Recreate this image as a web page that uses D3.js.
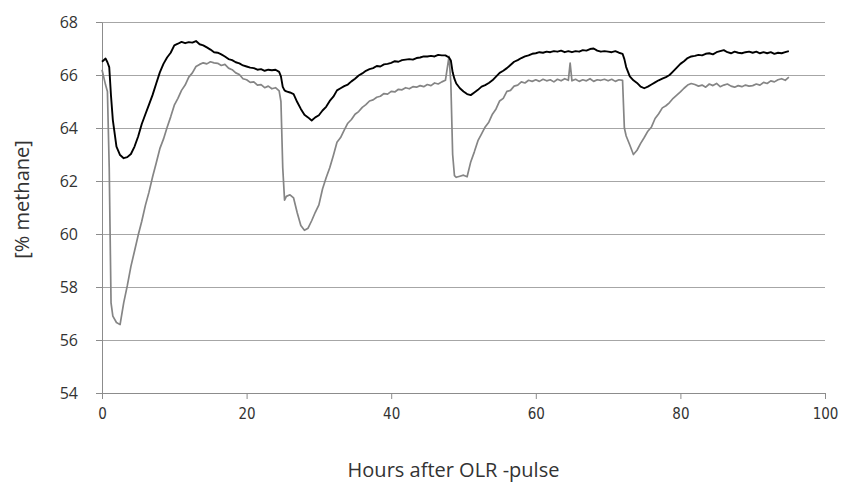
<!DOCTYPE html>
<html>
<head>
<meta charset="utf-8">
<script src="https://cdn.jsdelivr.net/npm/d3@7"></script>
<style>
  body { margin: 0; background: #fff; }
  .grid line { stroke: #a6a6a6; stroke-width: 1; }
  .grid path { display: none; }
  .axis path, .axis line { stroke: #8c8c8c; stroke-width: 1; }
  .ytick text { font-family: "Open Sans", "Noto Sans", sans-serif; font-size: 16px; fill: #333; }
  .xtick text { font-family: "Liberation Sans Narrow", "DejaVu Sans Condensed", sans-serif; font-size: 15px; fill: #333; }
  .title { font-family: "Open Sans", "Noto Sans", sans-serif; font-size: 20px; fill: #333; }
</style>
</head>
<body>
<div id="chart"></div>
<script>
// sample times (hours after the pulse), shared by both traces
const hours = [
  0, 0.5, 0.75, 1, 1.25, 1.5, 2, 2.5, 3, 3.5, 4, 4.5,
  5, 5.5, 6, 6.5, 7, 7.5, 8, 8.5, 9, 9.5,
  10, 10.5, 11, 11.5, 12, 12.5, 13, 13.5, 14, 14.5,
  15, 15.5, 16, 16.5, 17, 17.5, 18, 18.5, 19, 19.5,
  20, 20.5, 21, 21.5, 22, 22.5, 23, 23.5, 24, 24.5, 24.75,
  25, 25.25, 25.5, 26, 26.5, 27, 27.5, 28, 28.5, 29, 29.5,
  30, 30.5, 31, 31.5, 32, 32.5, 33, 33.5, 34, 34.5,
  35, 35.5, 36, 36.5, 37, 37.5, 38, 38.5, 39, 39.5,
  40, 40.5, 41, 41.5, 42, 42.5, 43, 43.5, 44, 44.5,
  45, 45.5, 46, 46.5, 47, 47.5, 48, 48.25, 48.5, 48.75, 49, 49.5,
  50, 50.5, 51, 51.5, 52, 52.5, 53, 53.5, 54, 54.5,
  55, 55.5, 56, 56.5, 57, 57.5, 58, 58.5, 59, 59.5,
  60, 60.5, 61, 61.5, 62, 62.5, 63, 63.5, 64, 64.5, 64.75,
  65, 65.5, 66, 66.5, 67, 67.5, 68, 68.5, 69, 69.5,
  70, 70.5, 71, 71.5, 72, 72.25, 72.5, 73, 73.5, 74, 74.5,
  75, 75.5, 76, 76.5, 77, 77.5, 78, 78.5, 79, 79.5,
  80, 80.5, 81, 81.5, 82, 82.5, 83, 83.5, 84, 84.5,
  85, 85.5, 86, 86.5, 87, 87.5, 88, 88.5, 89, 89.5,
  90, 90.5, 91, 91.5, 92, 92.5, 93, 93.5, 94, 94.5, 95
];

// black trace
const blackValues = [
  66.5, 66.62, 66.48, 66.3, 65.2, 64.3, 63.3, 62.98, 62.86, 62.9, 63.02, 63.3,
  63.68, 64.15, 64.52, 64.88, 65.25, 65.68, 66.1, 66.42, 66.66, 66.84,
  67.12, 67.18, 67.25, 67.2, 67.24, 67.22, 67.28, 67.16, 67.12, 67.04,
  66.96, 66.86, 66.84, 66.78, 66.7, 66.6, 66.56, 66.48, 66.44, 66.36,
  66.32, 66.28, 66.26, 66.2, 66.22, 66.16, 66.2, 66.18, 66.2, 66.12, 65.95,
  65.55, 65.42, 65.38, 65.34, 65.28, 64.98, 64.72, 64.5, 64.4, 64.28, 64.4,
  64.48, 64.66, 64.8, 65.02, 65.18, 65.42, 65.5, 65.58, 65.64, 65.76,
  65.86, 65.98, 66.06, 66.16, 66.22, 66.26, 66.34, 66.32, 66.4, 66.42,
  66.46, 66.52, 66.5, 66.56, 66.58, 66.6, 66.58, 66.64, 66.66, 66.7,
  66.7, 66.72, 66.7, 66.76, 66.74, 66.74, 66.66, 66.55, 66.1, 65.85, 65.68, 65.5,
  65.38, 65.28, 65.24, 65.34, 65.44, 65.56, 65.62, 65.7, 65.8, 65.94,
  66.08, 66.16, 66.26, 66.38, 66.5, 66.56, 66.64, 66.7, 66.74, 66.8,
  66.82, 66.86, 66.84, 66.88, 66.86, 66.9, 66.88, 66.92, 66.86, 66.9, 66.88,
  66.86, 66.9, 66.88, 66.94, 66.92, 66.98, 67.0, 66.92, 66.88, 66.9,
  66.88, 66.86, 66.9, 66.84, 66.8, 66.6, 66.3, 65.95, 65.8, 65.7, 65.56,
  65.5, 65.56, 65.64, 65.72, 65.8, 65.86, 65.92, 66.0, 66.14, 66.28,
  66.42, 66.52, 66.64, 66.7, 66.72, 66.76, 66.74, 66.8, 66.82, 66.78,
  66.86, 66.9, 66.94, 66.86, 66.82, 66.88, 66.84, 66.82, 66.86, 66.88,
  66.84, 66.88, 66.82, 66.86, 66.82, 66.86, 66.8, 66.84, 66.82, 66.86, 66.9
];

// grey trace
const greyValues = [
  66.2, 65.62, 65.38, 62.5, 57.4, 56.9, 56.66, 56.58, 57.4, 58.05, 58.78, 59.36,
  59.95, 60.48, 61.08, 61.58, 62.16, 62.68, 63.22, 63.58, 64.02, 64.42,
  64.86, 65.12, 65.42, 65.62, 65.92, 66.08, 66.32, 66.4, 66.46, 66.42,
  66.5, 66.46, 66.44, 66.36, 66.4, 66.26, 66.2, 66.08, 66.02, 65.86,
  65.82, 65.72, 65.74, 65.62, 65.64, 65.52, 65.58, 65.48, 65.52, 65.4, 65.0,
  62.5, 61.28, 61.42, 61.48, 61.36, 60.8, 60.32, 60.14, 60.22, 60.5, 60.82,
  61.1, 61.7, 62.12, 62.5, 62.96, 63.46, 63.64, 63.92, 64.18, 64.32,
  64.52, 64.62, 64.78, 64.88, 65.02, 65.06, 65.16, 65.2, 65.3, 65.28,
  65.38, 65.36, 65.46, 65.44, 65.52, 65.48, 65.56, 65.54, 65.6, 65.56,
  65.64, 65.6, 65.7, 65.66, 65.74, 65.8, 66.7, 65.7, 63.0, 62.2, 62.14, 62.18,
  62.22, 62.16, 62.72, 63.1, 63.52, 63.78, 64.04, 64.22, 64.52, 64.72,
  65.02, 65.12, 65.38, 65.42, 65.58, 65.62, 65.74, 65.7, 65.8, 65.76,
  65.82, 65.76, 65.84, 65.78, 65.82, 65.74, 65.84, 65.78, 65.86, 65.8, 66.45,
  65.78, 65.84, 65.76, 65.82, 65.78, 65.86, 65.76, 65.82, 65.8, 65.84,
  65.78, 65.84, 65.76, 65.82, 65.8, 64.0, 63.7, 63.36, 63.0, 63.16, 63.42,
  63.64, 63.88, 64.04, 64.36, 64.54, 64.76, 64.84, 64.96, 65.12, 65.24,
  65.36, 65.5, 65.62, 65.68, 65.64, 65.58, 65.62, 65.54, 65.66, 65.6,
  65.68, 65.56, 65.62, 65.66, 65.58, 65.54, 65.6, 65.56, 65.62, 65.58,
  65.6, 65.66, 65.62, 65.72, 65.68, 65.78, 65.74, 65.82, 65.86, 65.8, 65.92
];

const xTicks = [0, 20, 40, 60, 80, 100];
const yTicks = [54, 56, 58, 60, 62, 64, 66, 68];

const W = 843, H = 492;
const margin = { top: 22, right: 18, bottom: 99, left: 102 };
const width = W - margin.left - margin.right;
const height = H - margin.top - margin.bottom;

const svg = d3.select("#chart").append("svg")
  .attr("width", W)
  .attr("height", H);

const g = svg.append("g")
  .attr("transform", `translate(${margin.left},${margin.top})`);

const x = d3.scaleLinear().domain([0, 100]).range([0, width]);
const y = d3.scaleLinear().domain([54, 68]).range([height, 0]);

// horizontal gridlines
g.append("g")
  .attr("class", "grid")
  .call(d3.axisLeft(y).tickValues(yTicks).tickSize(-width).tickFormat(""));

// y axis
g.append("g")
  .attr("class", "axis ytick")
  .call(d3.axisLeft(y).tickValues(yTicks).tickSize(6).tickPadding(18).tickSizeOuter(0));

// x axis
g.append("g")
  .attr("class", "axis xtick")
  .attr("transform", `translate(0,${height})`)
  .call(d3.axisBottom(x).tickValues(xTicks).tickSize(6).tickPadding(9).tickSizeOuter(0));

const series = [
  { values: greyValues, color: "#858585", w: 1.7 },
  { values: blackValues, color: "#000000", w: 1.9 }
];

const line = d3.line()
  .x((d, i) => x(hours[i]))
  .y(d => y(d));

series.forEach(s => {
  g.append("path")
    .datum(s.values)
    .attr("fill", "none")
    .attr("stroke", s.color)
    .attr("stroke-width", s.w)
    .attr("stroke-linejoin", "round")
    .attr("d", line);
});

// axis titles
svg.append("text")
  .attr("class", "title")
  .attr("x", margin.left + x(50) - 10)
  .attr("y", 477)
  .attr("text-anchor", "middle")
  .text("Hours after OLR -pulse");

svg.append("text")
  .attr("class", "title")
  .attr("transform", `translate(29,${margin.top + y(61) - 8}) rotate(-90)`)
  .attr("text-anchor", "middle")
  .text("[% methane]");
</script>
</body>
</html>
